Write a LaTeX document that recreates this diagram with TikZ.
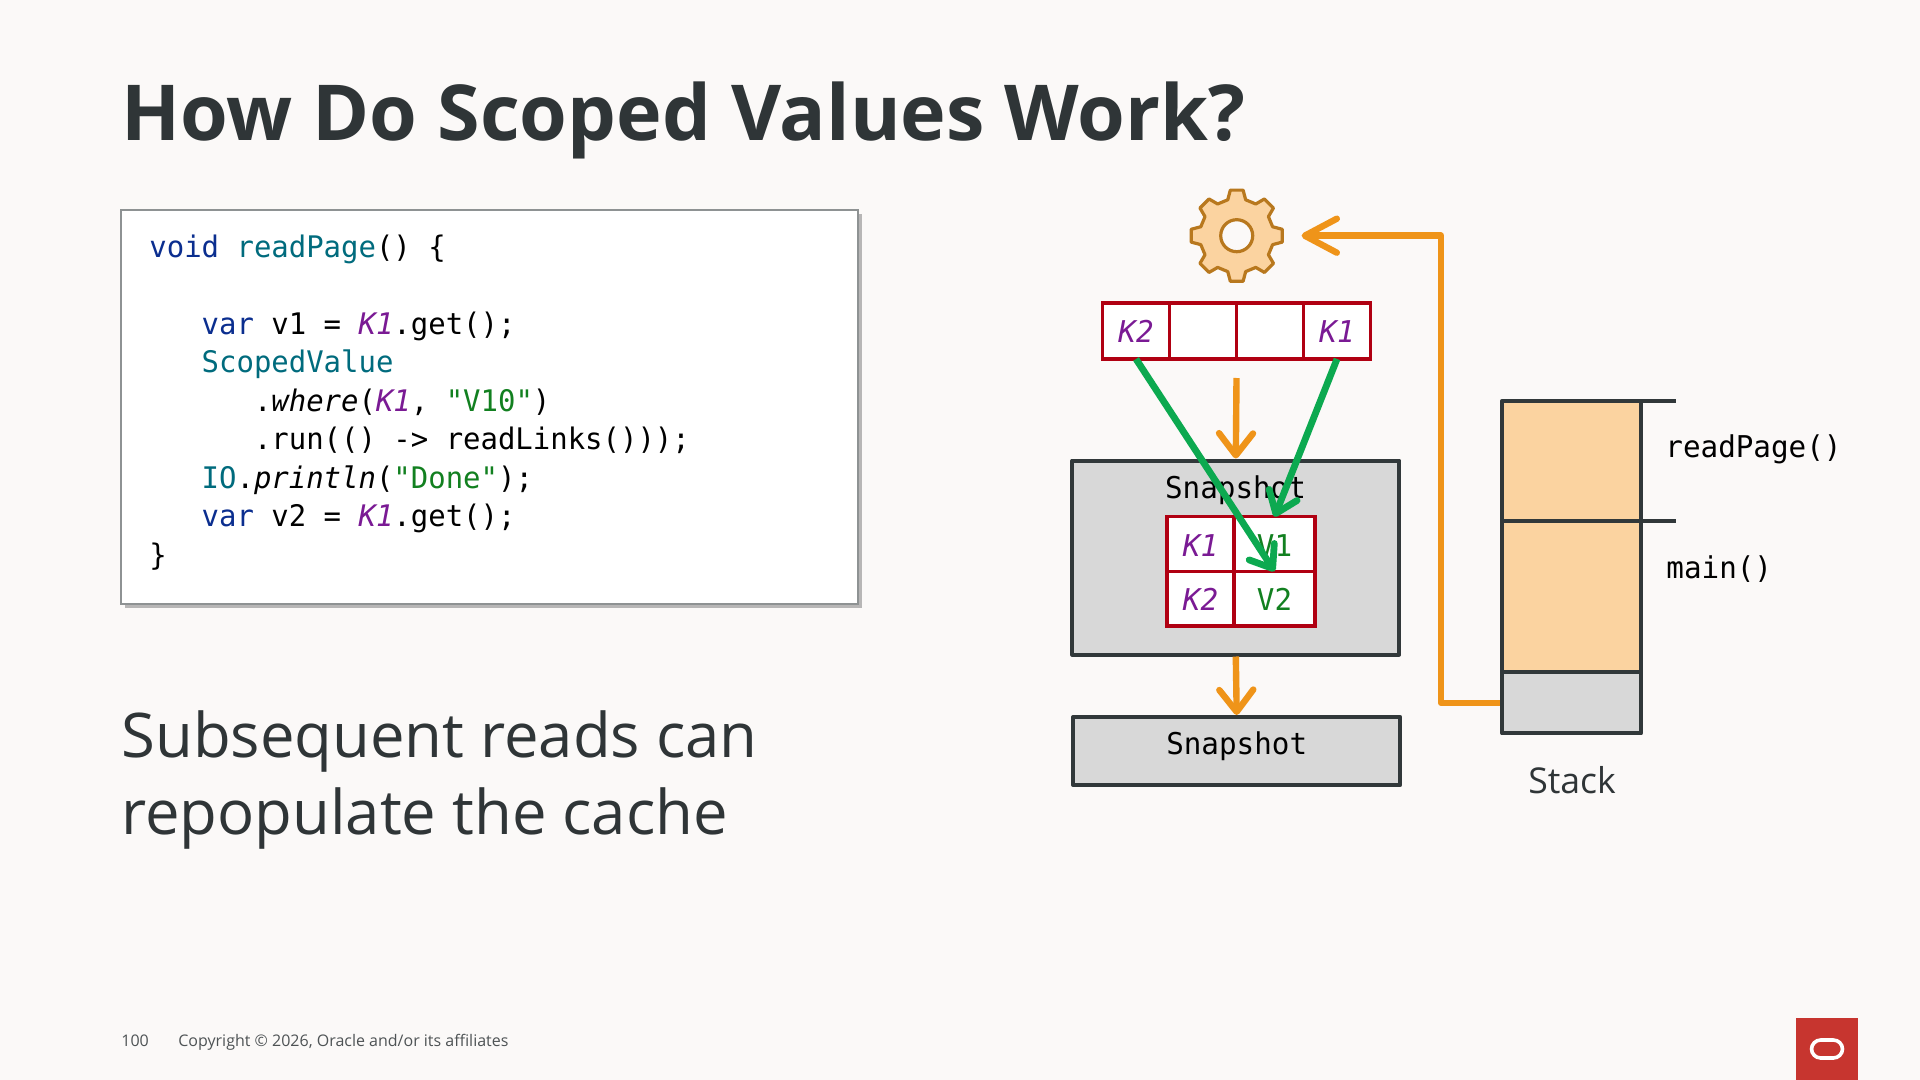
\documentclass[tikz,border=0pt]{standalone}
\usepackage{fontspec}
\setmainfont{Open Sans}
\setmonofont[FakeStretch=0.975]{DejaVu Sans Mono}
\usetikzlibrary{positioning,shadows,arrows.meta}

\definecolor{pagebg}{HTML}{FBF9F8}
\definecolor{inkc}{HTML}{2F3537}
\definecolor{framec}{HTML}{31383A}
\definecolor{snapc}{HTML}{D8D8D8}
\definecolor{stackc}{HTML}{FBD3A0}
\definecolor{cellc}{HTML}{B00012}
\definecolor{flowc}{HTML}{EF9419}
\definecolor{hitc}{HTML}{0CA950}
\definecolor{gearc}{HTML}{B8781E}
\definecolor{keyc}{HTML}{7A1A94}
\definecolor{valc}{HTML}{128020}
\definecolor{kwc}{HTML}{0B2E8F}
\definecolor{typec}{HTML}{006B7D}
\definecolor{logoc}{HTML}{C7352F}

\newcommand{\kw}[1]{\textcolor{kwc}{#1}}
\newcommand{\tp}[1]{\textcolor{typec}{#1}}
\newcommand{\vl}[1]{\textcolor{valc}{#1}}
\newcommand{\ky}[1]{\textcolor{keyc}{\itshape #1}}

\tikzset{
    barb/.tip={Straight Barb[length=11pt,width=17pt,round]},
    hitbarb/.tip={Straight Barb[length=10pt,width=15pt,round]},
    longbarb/.tip={Straight Barb[length=16pt,width=17pt,round]},
    flow/.style={flowc,line width=3.2pt,line join=round},
    hit/.style={hitc,line width=3.4pt,line join=round},
    frame/.style={draw=framec,line width=2pt,line join=round},
    snapbox/.style={frame,fill=snapc},
    stackbox/.style={frame,fill=stackc,outer sep=0pt,minimum width=69.5pt},
    cachecell/.style={draw=cellc,line width=1.7pt,fill=white,outer sep=0pt,inner sep=0pt,
        minimum height=28pt,text height=12pt,text depth=0pt,font=\ttfamily\fontsize{15}{16}\selectfont},
    keycell/.style={cachecell,minimum width=33.5pt,minimum height=27.3pt},
    valcell/.style={cachecell,minimum width=40.5pt,minimum height=27.3pt},
    monotext/.style={anchor=base,inner sep=0pt,font=\ttfamily\fontsize{15}{16}\selectfont},
    footertext/.style={anchor=base west,inner sep=0pt,text=inkc!85,font=\fontsize{8}{10}\selectfont},
}

\begin{document}
\begin{tikzpicture}[x=0.5pt,y=-0.5pt,node distance=33.5pt,on grid]
    \useasboundingbox (0,0) rectangle (1920,1080);
    \fill[pagebg] (0,0) rectangle (1920,1080);

    \node[anchor=base west,inner sep=0pt,text=inkc,font=\bfseries\fontsize{38.6}{48}\selectfont] (title) at (121,141) {How Do Scoped Values Work?};

    % code
    \node[draw=framec!55,line width=0.9pt,fill=white,drop shadow={shadow xshift=2pt,shadow yshift=-2pt,opacity=.55},
        minimum width=368.5pt,minimum height=197pt,outer sep=0pt] (code) at (489.5,407) {};
    \node[anchor=base west,inner sep=0pt,align=left,font=\ttfamily\fontsize{14.85}{19.25}\selectfont] (listing) at (149,565) {%
        \kw{void} \tp{readPage}() \{\\
        \mbox{}\\
        \phantom{xxx}\kw{var} v1 = \ky{K1}.get();\\
        \phantom{xxx}\tp{ScopedValue}\\
        \phantom{xxxxxx}.\textit{where}(\ky{K1}, \vl{"V10"})\\
        \phantom{xxxxxx}.run(() -> readLinks()));\\
        \phantom{xxx}\tp{IO}.\textit{println}(\vl{"Done"});\\
        \phantom{xxx}\kw{var} v2 = \ky{K1}.get();\\
        \}};

    \node[anchor=base west,inner sep=0pt,align=left,text=inkc,font=\fontsize{30.8}{38.5}\selectfont] (subtitle) at (121,834.5) {Subsequent reads can\\repopulate the cache};

    % gear
    \node[circle,minimum size=46.5pt,inner sep=0pt] (gear) at (1236.7,235.7) {};
    \draw[gearc,line width=1.6pt,fill=stackc,line join=round,shift={(gear.center)}]
        (-14:37*0.5pt)
        \foreach \a in {0,45,...,315} {
            -- (\a-14:37*0.5pt) -- (\a-8:46*0.5pt) -- (\a+8:46*0.5pt) -- (\a+14:37*0.5pt) -- (\a+31:37*0.5pt)
        } -- cycle;
    \node[circle,draw=gearc,line width=1.6pt,fill=pagebg,minimum size=16pt,inner sep=0pt] (hole) at (gear.center) {};

    % cache
    \node[cachecell,minimum width=33.5pt] (c_1) at (1136,331) {\ky{K2}};
    \node[cachecell,minimum width=33.5pt] (c_2) [right=of c_1] {};
    \node[cachecell,minimum width=33.5pt] (c_3) [right=of c_2] {};
    \node[cachecell,minimum width=33.5pt] (c_4) [right=of c_3] {\ky{K1}};
    \coordinate (cache_out) at (1236.5,378);

    % snapshots
    \node[snapbox,minimum width=163.5pt,minimum height=97pt] (snap_1) at (1235.8,557.5) {};
    \node[snapbox,minimum width=163.5pt,minimum height=34pt] (snap_2) at (1236.7,751) {};
    \node[monotext] (snap_1_t) at (1235.5,498) {Snapshot};
    \node[monotext] (snap_2_t) at (1236.7,754) {Snapshot};

    \node[keycell] (k_1) at (1200.5,544) {\ky{K1}};
    \node[valcell] (v_1) [right=37pt of k_1] {\vl{V1}};
    \node[keycell] (k_2) [below=27.3pt of k_1] {\ky{K2}};
    \node[valcell] (v_2) [right=37pt of k_2] {\vl{V2}};

    % stack
    \node[stackbox,minimum height=60.2pt] (stack_1) at (1571.6,461) {};
    \node[stackbox,minimum height=75.6pt] (stack_2) [on grid=false,below=0pt of stack_1] {};
    \node[stackbox,minimum height=30.5pt,fill=snapc] (stack_3) [on grid=false,below=0pt of stack_2] {};
    \draw[frame] (stack_1.north east) -- ++(35,0);
    \draw[frame] (stack_1.south east) -- ++(35,0);
    \node[monotext,anchor=base west] (frame_1) at (1665,457.7) {readPage()};
    \node[monotext,anchor=base west] (frame_2) at (1666,578) {main()};
    \node[anchor=base,inner sep=0pt,text=inkc,font=\fontsize{17.8}{20}\selectfont] (stack_t) at (1572,793) {Stack};

    % connectors
    \path[flow,-{barb}]
        (cache_out) edge (snap_1.north)
        (snap_1.south) edge (snap_2.north);
    \draw[flow,-{longbarb},shorten <=1pt,shorten >=9pt] (stack_3.west) -- ++(-61,0) |- (gear.east);
    \path[hit,-{hitbarb}]
        (c_1.south) edge (v_1.south)
        (c_4.south) edge (v_1.north);

    % footer
    \node[footertext] (page_no) at (121,1046) {100};
    \node[footertext] (copyright) at (178,1046) {Copyright © 2026, Oracle and/or its affiliates};
    \node[fill=logoc,minimum width=31pt,minimum height=31pt,inner sep=0pt,outer sep=0pt] (logo) at (1827,1049) {};
    \node[draw=white,line width=1.8pt,rounded corners=4.6pt,minimum width=15.5pt,minimum height=9pt,inner sep=0pt] (logo_o) at (logo.center) {};
\end{tikzpicture}
\end{document}
